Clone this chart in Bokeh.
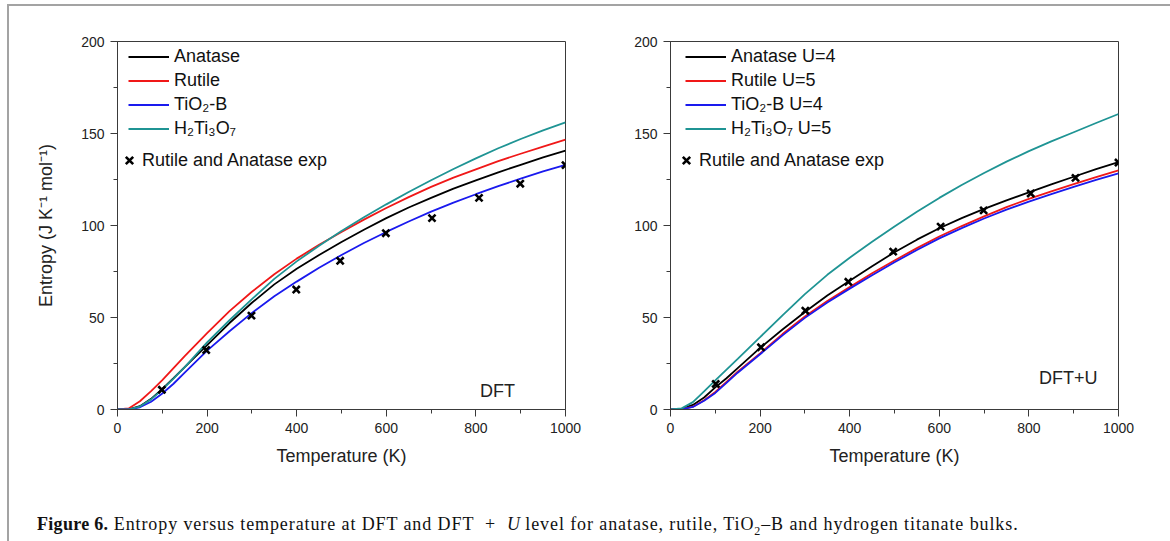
from bokeh.plotting import figure
from bokeh.models import Legend, LegendItem, Label, SingleIntervalTicker, Div, Spacer
from bokeh.layouts import row, column
from bokeh.embed import file_html
from bokeh.resources import INLINE

# ---------------- data ----------------
temperature = [0, 25, 50, 75, 100, 125, 150, 200, 250, 300, 350, 400, 450, 500,
               550, 600, 650, 700, 750, 800, 850, 900, 950, 1000]

# DFT panel
dft_anatase = [0, 0.1, 1.8, 5.8, 11.2, 17, 23, 35, 47, 58, 68, 76.5, 84, 91,
               97.7, 104, 109.8, 115, 120, 124.5, 128.9, 133, 137, 140.7]
dft_rutile = [0, 0.6, 4.5, 10, 16, 22.5, 29, 41.5, 53.5, 64, 73.5, 82, 89.5, 96.5,
              103.2, 109.5, 115.4, 121, 126, 130.5, 135, 139, 142.9, 146.7]
dft_tio2b = [0, 0, 1.2, 4.2, 8.7, 14, 20, 32, 42.5, 52.5, 61.5, 69.5, 77, 84,
             90.5, 96.5, 102.2, 107.5, 112.4, 117, 121.4, 125.5, 129.4, 133]
dft_h2ti3o7 = [0, 0.1, 1.6, 5.5, 10.8, 16.8, 23, 36.5, 48.5, 60, 71, 80.5, 89, 97,
               104.5, 111.5, 118.2, 124.6, 130.7, 136.5, 142, 147, 151.7, 156]
dft_exp_t = [99, 198, 299, 399, 497, 599, 702, 807, 899, 1000]
dft_exp_s = [10.7, 32.3, 51, 65.2, 80.8, 95.8, 104, 115, 122.7, 132.8]

# DFT+U panel
u_anatase = [0, 0.3, 2.5, 6.5, 12, 17, 22.5, 33.5, 43.5, 53, 62, 70, 77.8, 85.5,
             92.3, 98.5, 104, 109, 113.7, 118, 122.3, 126.5, 130.6, 134.5]
u_rutile = [0, 0.1, 1.5, 5, 9.5, 15, 20.5, 30.5, 41, 50.5, 59, 66.5, 74, 81,
            87.7, 94, 99.7, 105, 110, 114.5, 118.6, 122.5, 126.3, 130]
u_tio2b = [0, 0.1, 1.4, 4.8, 9, 14.5, 20, 30, 40.3, 49.8, 58.2, 65.7, 73, 80,
           86.7, 93, 98.6, 103.8, 108.6, 113, 117.1, 121, 124.8, 128.3]
u_h2ti3o7 = [0, 0.6, 4, 9.8, 15.8, 21.7, 27.5, 39.3, 51.2, 62.7, 73.2, 82.5, 91.2, 99.5,
             107.5, 115, 122, 128.5, 134.7, 140.4, 145.7, 150.7, 155.7, 160.6]
u_exp_t = [101, 202, 301, 397, 497, 603, 699, 804, 904, 1000]
u_exp_s = [13.9, 33.8, 53.7, 69.4, 85.8, 99.4, 108.2, 117.4, 125.9, 134.2]

dft_labels = ["Anatase", "Rutile", "TiO\u2082-B", "H\u2082Ti\u2083O\u2087"]
u_labels = ["Anatase U=4", "Rutile U=5", "TiO\u2082-B U=4", "H\u2082Ti\u2083O\u2087 U=5"]
exp_label = "Rutile and Anatase exp"

colors = ["#000000", "#f01818", "#1a1aee", "#1f9494"]
SANS = "Liberation Sans"
AXC = "#3a3a3a"


def make_panel(series, labels, exp_t, exp_s, tag, tag_xy, width, mb_left, mb_right,
               ylabel, leg_dx):
    p = figure(width=width, height=469, x_range=(0, 1000), y_range=(0, 200),
               output_backend="svg", toolbar_location=None,
               min_border_left=mb_left, min_border_right=mb_right,
               min_border_top=35, min_border_bottom=66)
    p.grid.visible = False
    p.outline_line_color = AXC
    p.outline_line_width = 1
    p.background_fill_color = "white"
    p.border_fill_color = "white"

    p.xaxis.ticker = SingleIntervalTicker(interval=200, num_minor_ticks=2)
    p.yaxis.ticker = SingleIntervalTicker(interval=50, num_minor_ticks=2)
    for ax in (p.xaxis[0], p.yaxis[0]):
        ax.axis_line_color = AXC
        ax.major_tick_line_color = AXC
        ax.minor_tick_line_color = AXC
        ax.major_tick_in = 0
        ax.major_tick_out = 7
        ax.minor_tick_in = 0
        ax.minor_tick_out = 4
        ax.major_label_text_font = SANS
        ax.major_label_text_font_size = "14px"
        ax.major_label_text_color = "#222222"
        ax.major_label_standoff = 6
        ax.axis_label_text_font = SANS
        ax.axis_label_text_font_size = "18px"
        ax.axis_label_text_font_style = "normal"
        ax.axis_label_text_color = "#222222"
    p.xaxis.axis_label = "Temperature (K)"
    p.xaxis.axis_label_standoff = 10
    if ylabel:
        p.yaxis.axis_label = ylabel
        p.yaxis.axis_label_standoff = 22

    line_items = []
    for vals, lab, col in zip(series, labels, colors):
        r = p.line(temperature, vals, line_color=col, line_width=1.8)
        line_items.append(LegendItem(label=lab, renderers=[r]))
    rx = p.scatter(exp_t, exp_s, marker="x", size=10, line_color="black",
                   line_width=2.6)

    leg1 = Legend(items=line_items, location=(leg_dx, 270), padding=0, margin=0,
                  spacing=3, label_height=21, glyph_height=21, glyph_width=41,
                  label_standoff=5, border_line_color=None,
                  background_fill_alpha=0, label_text_font=SANS,
                  label_text_font_size="18px", label_text_color="#111111")
    leg2 = Legend(items=[LegendItem(label=exp_label, renderers=[rx])],
                  location=(leg_dx - 12, 236), padding=0, margin=0,
                  label_height=26, glyph_height=26, glyph_width=26,
                  label_standoff=0, border_line_color=None,
                  background_fill_alpha=0, label_text_font=SANS,
                  label_text_font_size="18px", label_text_color="#111111")
    p.add_layout(leg1)
    p.add_layout(leg2)

    p.add_layout(Label(x=tag_xy[0], y=tag_xy[1], text=tag, text_align="center",
                       text_baseline="middle", text_font=SANS,
                       text_font_size="18px", text_color="#222222"))
    return p


p1 = make_panel([dft_anatase, dft_rutile, dft_tio2b, dft_h2ti3o7], dft_labels,
                dft_exp_t, dft_exp_s, "DFT", (848, 10), 601, 108, 45,
                "Entropy (J K\u207b\u00b9 mol\u207b\u00b9)", 11)
p2 = make_panel([u_anatase, u_rutile, u_tio2b, u_h2ti3o7], u_labels,
                u_exp_t, u_exp_s, "DFT+U", (888, 17), 553, 60, 45, None, 15)

caption_html = (
    '<div style="font-family: \'Liberation Serif\', serif; font-size: 18px; '
    'letter-spacing: 0.9px; color: #111; padding-left: 23px; padding-top: 32px; '
    'white-space: nowrap;">'
    '<b style="letter-spacing:0.3px">Figure 6.</b> Entropy versus temperature at DFT and '
    'DFT&nbsp;&nbsp;+&nbsp;&nbsp;<i>U</i>&thinsp;level for anatase, rutile, '
    'TiO<sub style="font-size:12px">2</sub>&ndash;B '
    'and hydrogen titanate bulks.</div>'
)
caption = Div(text=caption_html, width=1154, height=60)

boxed = column(row(p1, p2), caption,
               styles={"border-top": "2px solid #a3a3a3",
                       "border-left": "2px solid #a3a3a3",
                       "border-right": "2px solid #a3a3a3"})

layout = column(Spacer(height=4), row(Spacer(width=7), boxed))

with open("out.html", "w") as f:
    f.write(file_html(layout, INLINE))
